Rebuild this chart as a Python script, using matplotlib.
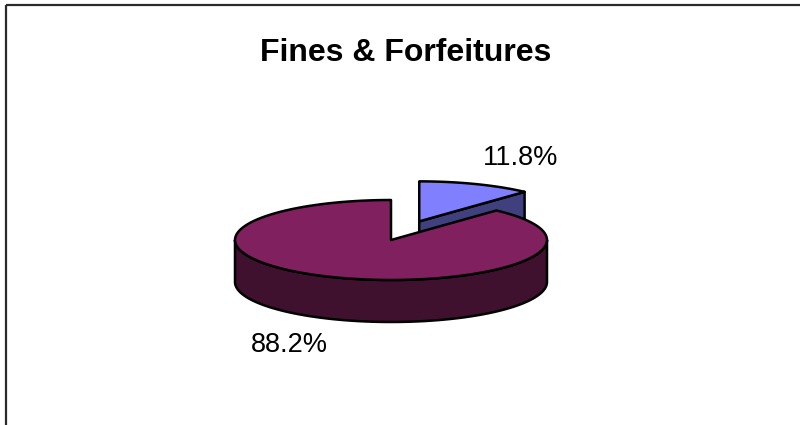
import numpy as np
import matplotlib.pyplot as plt
from matplotlib.patches import Polygon, Rectangle

plt.rcParams['font.family'] = ['Liberation Sans', 'DejaVu Sans']

title = "Fines & Forfeitures"
values = [11.8, 88.2]
labels = ["11.8%", "88.2%"]
explode = [0.5, 0.0]
top_colors = ['#8080FF', '#80205F']
side_colors = ['#40407F', '#40102F']

# ellipse geometry in pixel units (y grows downward)
cx, cy = 391, 240
rx, ry = 156, 40
depth = 42


def pt(c, t, dz=0):
    return (c[0] + rx * np.cos(np.radians(t)), c[1] - ry * np.sin(np.radians(t)) + dz)


def arc(c, t0, t1, dz=0, n=120):
    ts = np.linspace(t0, t1, n)
    return [pt(c, t, dz) for t in ts]


fig = plt.figure(figsize=(8, 4.25), dpi=100)
ax = fig.add_axes([0, 0, 1, 1])
ax.set_xlim(0, 800)
ax.set_ylim(425, 0)
ax.axis('off')

ax.add_patch(Rectangle((5.5, 5), 800, 430, fill=False, edgecolor='#2a2a2a', linewidth=1.6))

total = sum(values)
start = 90.0
slices = []
for v, e in zip(values, explode):
    sweep = v / total * 360
    t0, t1 = start, start - sweep
    mid = (t0 + t1) / 2
    c = (cx + e * rx * np.cos(np.radians(mid)), cy - e * ry * np.sin(np.radians(mid)))
    slices.append((t0, t1, mid, c))
    start = t1

lw = 1.8
# back slice first, front slice over it
for i in range(len(values)):
    t0, t1, mid, c = slices[i]
    # radial face at the clockwise end, visible when it faces forward
    if np.sin(np.radians(t1 - 90)) < 0 and np.sin(np.radians(t1)) > -1:
        e = pt(c, t1)
        face = [c, e, (e[0], e[1] + depth), (c[0], c[1] + depth)]
        ax.add_patch(Polygon(face, closed=True, facecolor=side_colors[i],
                             edgecolor='black', linewidth=lw, joinstyle='round'))
    # outer wall over the front half
    lo, hi = max(t1, -180), min(t0, 0)
    if t1 < 0 and lo < hi:
        wall = arc(c, hi, lo) + arc(c, lo, hi, depth)
        ax.add_patch(Polygon(wall, closed=True, facecolor=side_colors[i],
                             edgecolor='black', linewidth=lw, joinstyle='round'))
    top = [c] + arc(c, t0, t1)
    ax.add_patch(Polygon(top, closed=True, facecolor=top_colors[i],
                         edgecolor='black', linewidth=lw, joinstyle='round'))

    # data label outside the slice
    lx = c[0] + 1.8 * rx * np.cos(np.radians(mid))
    ly = c[1] - 1.7 * ry * np.sin(np.radians(mid))
    if np.sin(np.radians(mid)) < 0:
        ly += depth
    ax.text(lx, ly, labels[i], ha='center', va='center', fontsize=19.5, color='black')

ax.text(406, 53, title, ha='center', va='center', fontsize=23, fontweight='bold')

fig.savefig('out.png', dpi=100)
